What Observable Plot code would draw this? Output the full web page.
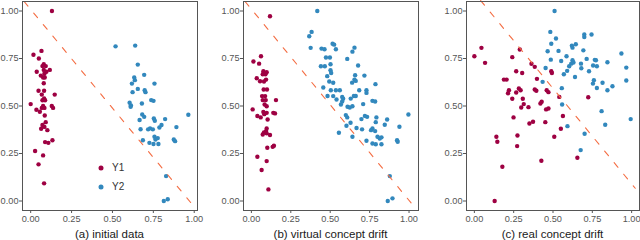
<!DOCTYPE html>
<html><head><meta charset="utf-8">
<script src="https://cdn.jsdelivr.net/npm/d3@7"></script>
<script src="https://cdn.jsdelivr.net/npm/@observablehq/plot@0.6"></script>
<style>
body{margin:0;background:#fff;font-family:"Liberation Sans",Arial,sans-serif}
#wrap{position:relative;width:640px;height:240px;overflow:hidden;background:#fff}
.panel{position:absolute;top:0}
.cap{position:absolute;top:228px;width:240px;text-align:center;font-size:11.5px;color:#1a1a1a;line-height:13px;white-space:nowrap}
.leg{position:absolute;font-size:10px;color:#333;line-height:12px;display:flex;align-items:center}
.leg svg{margin-right:8px}
</style></head><body><div id="wrap"></div>
<script>
const seriesNames = ["Y1", "Y2"];
const seriesColors = ["#9E0142", "#3288BD"];
const lineColor = "#F46D43";
const tickValues = [0, 0.25, 0.5, 0.75, 1];
const captions = ["(a) initial data", "(b) virtual concept drift", "(c) real concept drift"];

// Panel (a) initial data
const aY1 = [[0.13,1.0],[0.066,0.79],[0.017,0.77],[0.05,0.75],[0.08,0.72],[0.092,0.71],[0.072,0.71],[0.117,0.69],[0.037,0.68],[0.08,0.69],[0.096,0.68],[0.084,0.67],[0.062,0.66],[0.076,0.65],[0.086,0.65],[0.08,0.62],[0.048,0.58],[0.082,0.58],[0.068,0.56],[0.147,0.56],[0.082,0.54],[0.072,0.53],[0.088,0.53],[0.0,0.51],[0.076,0.5],[0.068,0.49],[0.084,0.49],[0.129,0.5],[0.137,0.49],[0.035,0.48],[0.056,0.47],[0.086,0.45],[0.092,0.415],[0.072,0.4],[0.084,0.39],[0.064,0.38],[0.102,0.373],[0.088,0.31],[0.108,0.306],[0.133,0.32],[0.027,0.263],[0.076,0.24],[0.048,0.193],[0.082,0.093]];
const aY2 = [[0.519,0.814],[0.639,0.818],[0.655,0.718],[0.694,0.664],[0.633,0.65],[0.637,0.636],[0.619,0.618],[0.757,0.618],[0.655,0.59],[0.697,0.583],[0.702,0.573],[0.623,0.573],[0.737,0.531],[0.751,0.527],[0.605,0.517],[0.613,0.503],[0.611,0.496],[0.68,0.513],[0.964,0.454],[0.682,0.455],[0.694,0.443],[0.666,0.426],[0.753,0.434],[0.759,0.422],[0.822,0.431],[0.8,0.4],[0.787,0.387],[0.73,0.382],[0.747,0.377],[0.718,0.377],[0.672,0.378],[0.891,0.389],[0.757,0.338],[0.777,0.331],[0.763,0.324],[0.686,0.32],[0.726,0.306],[0.751,0.3],[0.781,0.3],[0.875,0.324],[0.883,0.315],[0.828,0.131],[0.814,0.0],[0.838,0.009]];
const aLine = [[-0.04,1.05],[0.985,-0.015]];

// Panel (b) virtual concept drift
const bY1 = [[0.118,0.972],[0.061,0.762],[0.013,0.734],[0.049,0.723],[0.076,0.683],[0.097,0.678],[0.072,0.667],[0.089,0.667],[0.034,0.646],[0.093,0.639],[0.08,0.629],[0.055,0.63],[0.078,0.587],[0.099,0.587],[0.068,0.552],[0.087,0.552],[0.072,0.531],[0.091,0.531],[0.156,0.531],[0.084,0.508],[0.097,0.499],[0.008,0.482],[0.076,0.469],[0.097,0.464],[0.082,0.457],[0.139,0.464],[0.15,0.461],[0.038,0.447],[0.059,0.44],[0.103,0.429],[0.097,0.382],[0.093,0.368],[0.08,0.361],[0.072,0.35],[0.097,0.356],[0.118,0.347],[0.101,0.28],[0.135,0.285],[0.143,0.291],[0.038,0.233],[0.097,0.21],[0.065,0.163],[0.108,0.061]];
const bY2 = [[0.418,1.0],[0.382,0.89],[0.367,0.867],[0.376,0.806],[0.515,0.828],[0.525,0.823],[0.445,0.802],[0.464,0.799],[0.536,0.799],[0.654,0.807],[0.641,0.786],[0.473,0.755],[0.498,0.755],[0.608,0.748],[0.502,0.72],[0.677,0.713],[0.441,0.709],[0.466,0.709],[0.502,0.688],[0.506,0.674],[0.481,0.657],[0.658,0.662],[0.654,0.639],[0.662,0.632],[0.717,0.66],[0.494,0.629],[0.519,0.622],[0.639,0.623],[0.787,0.615],[0.456,0.597],[0.504,0.583],[0.536,0.583],[0.561,0.583],[0.684,0.583],[0.73,0.583],[0.73,0.569],[0.483,0.553],[0.519,0.552],[0.576,0.548],[0.582,0.538],[0.576,0.524],[0.65,0.553],[0.662,0.553],[0.63,0.539],[0.54,0.534],[0.768,0.527],[0.785,0.524],[0.568,0.508],[0.61,0.496],[0.624,0.492],[0.641,0.499],[0.709,0.51],[0.996,0.455],[0.599,0.452],[0.608,0.44],[0.72,0.448],[0.734,0.443],[0.698,0.431],[0.793,0.44],[0.789,0.415],[0.861,0.429],[0.846,0.401],[0.939,0.391],[0.629,0.412],[0.603,0.396],[0.667,0.384],[0.702,0.377],[0.768,0.382],[0.759,0.373],[0.555,0.359],[0.785,0.368],[0.641,0.338],[0.8,0.338],[0.814,0.329],[0.825,0.335],[0.73,0.317],[0.768,0.303],[0.789,0.299],[0.825,0.299],[0.924,0.32],[0.928,0.312],[0.878,0.131],[0.895,0.014],[0.865,0.0]];
const bLine = [[-0.04,1.05],[1.015,-0.012]];

// Panel (c) real concept drift
const cY1 = [[0.0,0.762],[0.045,0.806],[0.068,0.727],[0.289,0.797],[0.241,0.757],[0.363,0.722],[0.266,0.683],[0.304,0.674],[0.384,0.706],[0.489,0.683],[0.493,0.674],[0.188,0.639],[0.205,0.639],[0.398,0.643],[0.283,0.592],[0.294,0.583],[0.22,0.583],[0.266,0.571],[0.214,0.567],[0.384,0.587],[0.394,0.58],[0.46,0.583],[0.471,0.573],[0.54,0.548],[0.241,0.538],[0.308,0.538],[0.428,0.522],[0.42,0.513],[0.314,0.51],[0.298,0.492],[0.344,0.494],[0.724,0.546],[0.456,0.482],[0.471,0.487],[0.563,0.447],[0.249,0.44],[0.373,0.417],[0.35,0.408],[0.451,0.415],[0.55,0.38],[0.14,0.338],[0.146,0.312],[0.274,0.345],[0.272,0.289],[0.508,0.338],[0.426,0.212],[0.655,0.228],[0.178,0.18],[0.129,0.0]];
const cY2 = [[0.51,1.0],[0.483,0.89],[0.519,0.855],[0.489,0.828],[0.699,0.876],[0.699,0.863],[0.745,0.876],[0.62,0.818],[0.624,0.807],[0.645,0.825],[0.466,0.788],[0.535,0.79],[0.693,0.793],[0.935,0.776],[0.486,0.744],[0.552,0.737],[0.586,0.762],[0.624,0.741],[0.63,0.729],[0.603,0.709],[0.616,0.723],[0.59,0.685],[0.569,0.667],[0.678,0.723],[0.68,0.699],[0.714,0.748],[0.766,0.743],[0.773,0.741],[0.755,0.713],[0.779,0.709],[0.846,0.73],[0.966,0.702],[0.453,0.7],[0.729,0.683],[0.64,0.653],[0.434,0.627],[0.76,0.636],[0.754,0.618],[0.815,0.622],[0.966,0.634],[0.878,0.604],[0.779,0.595],[0.846,0.583],[0.556,0.594],[0.558,0.508],[0.809,0.473],[0.994,0.431],[0.832,0.401],[0.592,0.394],[0.701,0.354],[0.676,0.268]];
const cLine = [[0.04,1.055],[1.023,0.067]];

const panels = [
  {left: 0,   width: 200, marginRight: 3, xDomain: [-0.05, 1.02], y1: aY1, y2: aY2, line: aLine, caption: captions[0]},
  {left: 221, width: 200, marginRight: 3, xDomain: [-0.05, 1.06], y1: bY1, y2: bY2, line: bLine, caption: captions[1]},
  {left: 444, width: 196, marginRight: 1, xDomain: [-0.05, 1.05], y1: cY1, y2: cY2, line: cLine, caption: captions[2]}
];

const wrap = document.getElementById("wrap");
const fmt = d3.format(".2f");

panels.forEach(p => {
  const pts = [
    ...p.y1.map(([x, y]) => ({x, y, s: seriesNames[0]})),
    ...p.y2.map(([x, y]) => ({x, y, s: seriesNames[1]}))
  ];
  const line = p.line.map(([x, y]) => ({x, y}));
  const chart = Plot.plot({
    width: p.width,
    height: 228,
    marginLeft: 22,
    marginRight: p.marginRight,
    marginTop: 1,
    marginBottom: 18,
    style: {fontFamily: "'Liberation Sans', Arial, sans-serif", fontSize: "9.2px", color: "#555", background: "transparent", overflow: "visible"},
    x: {domain: p.xDomain},
    y: {domain: [-0.05, 1.05]},
    color: {domain: seriesNames, range: seriesColors},
    marks: [
      Plot.axisX({ticks: tickValues, tickFormat: fmt, tickSize: 3, tickPadding: 2, label: null, stroke: "#555"}),
      Plot.axisY({ticks: tickValues, tickFormat: fmt, tickSize: 3, tickPadding: 1, label: null, stroke: "#555"}),
      Plot.dot(pts, {x: "x", y: "y", fill: "s", r: 2.2, stroke: null}),
      Plot.line(line, {x: "x", y: "y", stroke: lineColor, strokeWidth: 1.1, strokeDasharray: "6,9"}),
      Plot.frame({stroke: "#555", strokeWidth: 1})
    ]
  });
  chart.classList.add("panel");
  chart.style.left = p.left + "px";
  wrap.appendChild(chart);
  const frameCenter = p.left + 22 + (p.width - 22 - p.marginRight) / 2;
  const cap = document.createElement("div");
  cap.className = "cap";
  cap.textContent = p.caption;
  cap.style.left = (frameCenter - 120) + "px";
  wrap.appendChild(cap);
});

// legend inside panel (a)
seriesNames.forEach((name, i) => {
  const d = document.createElement("div");
  d.className = "leg";
  d.style.left = "98px";
  d.style.top = (162 + i * 19) + "px";
  d.innerHTML = `<svg width="6" height="6"><circle cx="3" cy="3" r="2.5" fill="${seriesColors[i]}"/></svg><span>${name}</span>`;
  wrap.appendChild(d);
});
</script>
</body></html>
